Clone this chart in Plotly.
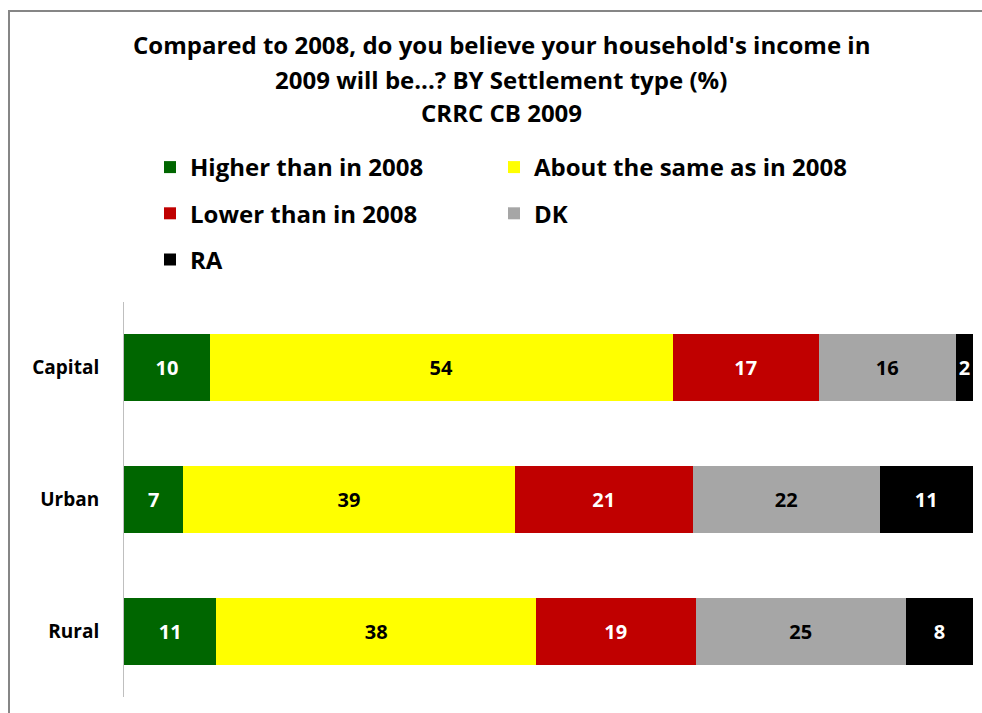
import plotly.graph_objects as go

# Survey shares by settlement type (%)
settlements = ["Capital", "Urban", "Rural"]
answers = ["Higher than in 2008", "About the same as in 2008",
           "Lower than in 2008", "DK", "RA"]
higher = [10, 7, 11]
same = [54, 39, 38]
lower = [17, 21, 19]
dk = [16, 22, 25]
ra = [2, 11, 8]

series = [higher, same, lower, dk, ra]
colors = ["#006600", "#FFFF00", "#C00000", "#A6A6A6", "#000000"]
text_colors = ["white", "black", "white", "black", "white"]
legend_ids = ["legend", "legend2", "legend", "legend2", "legend"]

FONT = "Open Sans"

fig = go.Figure()
for name, vals, col, tcol, lg in zip(answers, series, colors, text_colors, legend_ids):
    fig.add_trace(go.Bar(
        y=settlements, x=vals, name=name, orientation="h",
        marker=dict(color=col, line=dict(width=0)),
        text=[str(v) for v in vals], textposition="inside",
        insidetextanchor="middle", textangle=0, constraintext="none",
        textfont=dict(family=FONT, size=20, color=tcol, weight="bold"),
        legend=lg, legendgroup=name, hoverinfo="skip",
    ))

W, H = 982, 713
L, R, T, B = 124, 9, 302, 16
plot_h = H - T - B
plot_w = W - L - R


def py(p):
    """pixel row (from top) -> paper y"""
    return (H - B - p) / plot_h


def px(p):
    """pixel column -> paper x"""
    return (p - L) / plot_w


title_lines = [
    "Compared to 2008, do you believe your household's income in",
    "2009 will be...? BY Settlement type (%)",
    "CRRC CB 2009",
]
title_rows = [44, 79, 113]
annotations = [
    dict(text=f"<b>{t}</b>", x=px(501), y=py(r), xref="paper", yref="paper",
         showarrow=False, xanchor="center", yanchor="middle",
         font=dict(family=FONT, size=24, color="black"))
    for t, r in zip(title_lines, title_rows)
]

legend_common = dict(
    orientation="v", traceorder="grouped", tracegroupgap=12,
    font=dict(family=FONT, size=24, color="black", weight="bold"),
    bgcolor="rgba(0,0,0,0)", itemclick=False, itemdoubleclick=False,
    xref="paper", yref="paper", xanchor="left", yanchor="top",
)

fig.update_layout(
    width=W, height=H,
    margin=dict(l=L, r=R, t=T, b=B),
    paper_bgcolor="white", plot_bgcolor="white",
    barmode="stack", barnorm="percent", bargap=0.49,
    showlegend=True,
    legend=dict(**legend_common, x=px(150), y=py(145)),
    legend2=dict(**legend_common, x=px(494), y=py(145)),
    xaxis=dict(range=[0, 100], visible=False, fixedrange=True),
    yaxis=dict(
        autorange="reversed", showline=True, linecolor="#BFBFBF", linewidth=1,
        showgrid=False, zeroline=False, ticks="", ticklabelstandoff=20,
        tickfont=dict(family=FONT, size=19, color="black", weight="bold"),
        fixedrange=True,
    ),
    annotations=annotations,
    shapes=[dict(type="rect", xref="paper", yref="paper",
                 x0=px(9), x1=px(1010), y0=py(740), y1=py(11),
                 line=dict(color="#868686", width=2), fillcolor="rgba(0,0,0,0)",
                 layer="above")],
)

fig.write_html("out.html")
